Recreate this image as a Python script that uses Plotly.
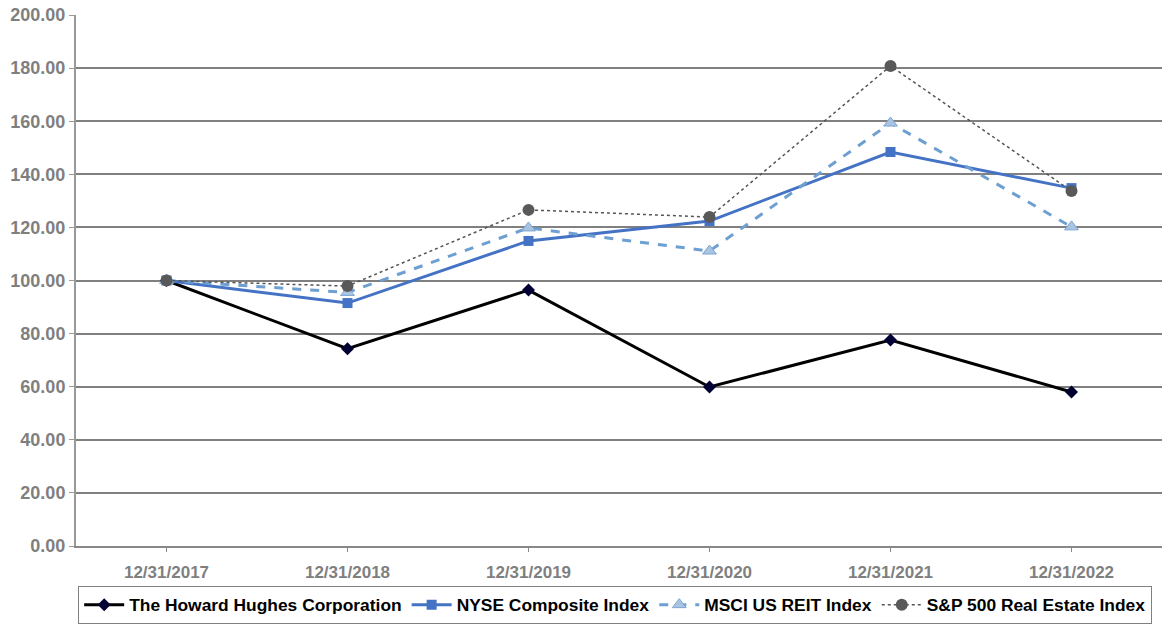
import plotly.graph_objects as go

dates = ["12/31/2017", "12/31/2018", "12/31/2019", "12/31/2020", "12/31/2021", "12/31/2022"]
hhc = [100.00, 74.3, 96.4, 59.9, 77.6, 58.0]
nyse = [100.00, 91.5, 114.9, 122.4, 148.4, 134.8]
msci = [100.00, 95.5, 119.8, 111.1, 159.3, 120.2]
sp_re = [100.00, 97.9, 126.6, 123.9, 180.8, 133.7]
y_ticks = [0, 20, 40, 60, 80, 100, 120, 140, 160, 180, 200]

fig = go.Figure()
fig.add_trace(go.Scatter(
    x=dates, y=hhc, name="The Howard Hughes Corporation", mode="lines+markers",
    line=dict(color="#000000", width=3),
    marker=dict(symbol="diamond", size=10, color="#000033")))
fig.add_trace(go.Scatter(
    x=dates, y=nyse, name="NYSE Composite Index", mode="lines+markers",
    line=dict(color="#4472C4", width=3),
    marker=dict(symbol="square", size=10, color="#4472C4")))
fig.add_trace(go.Scatter(
    x=dates, y=msci, name="MSCI US REIT Index", mode="lines+markers",
    line=dict(color="#6E9FD1", width=3, dash="dash"),
    marker=dict(symbol="triangle-up", size=12, color="#A9C4E2",
                line=dict(color="#7EA6D2", width=1))))
fig.add_trace(go.Scatter(
    x=dates, y=sp_re, name="S&P 500 Real Estate Index", mode="lines+markers",
    line=dict(color="#555555", width=1.5, dash="dot"),
    marker=dict(symbol="circle", size=12, color="#595959")))

fig.update_layout(
    width=1162, height=630,
    margin=dict(l=76, r=0, t=15, b=84, autoexpand=False),
    paper_bgcolor="white", plot_bgcolor="white",
    font=dict(family="Liberation Sans, Arial, sans-serif"),
    showlegend=True,
    legend=dict(
        orientation="h", x=0.002, y=-0.075, xanchor="left", yanchor="top",
        bordercolor="#808080", borderwidth=1,
        font=dict(size=17.4, color="#000000", family="Liberation Sans, Arial, sans-serif", weight="bold"),
        itemwidth=40, tracegroupgap=0,
    ),
    xaxis=dict(
        type="category", range=[-0.5, 5.5], automargin=False,
        showgrid=False, showline=True, linecolor="#888888", linewidth=2,
        ticks="outside", ticklen=4, tickcolor="#888888", tickwidth=1,
        ticklabelstandoff=6,
        tickfont=dict(size=17, color="#7F7F7F", weight="bold"),
        fixedrange=True,
    ),
    yaxis=dict(
        range=[0, 200], tickvals=y_ticks, tickformat=".2f", automargin=False,
        showgrid=True, gridcolor="#808080", gridwidth=2,
        showline=True, linecolor="#999999", linewidth=2,
        ticks="outside", ticklen=5, tickcolor="#999999",
        tickfont=dict(size=18, color="#7F7F7F", weight="bold"),
        zeroline=False, fixedrange=True,
    ),
)

fig.write_html(
    "out.html",
    config={"displayModeBar": False},
    post_script="document.body.style.margin='0';document.body.style.overflow='hidden';",
)
